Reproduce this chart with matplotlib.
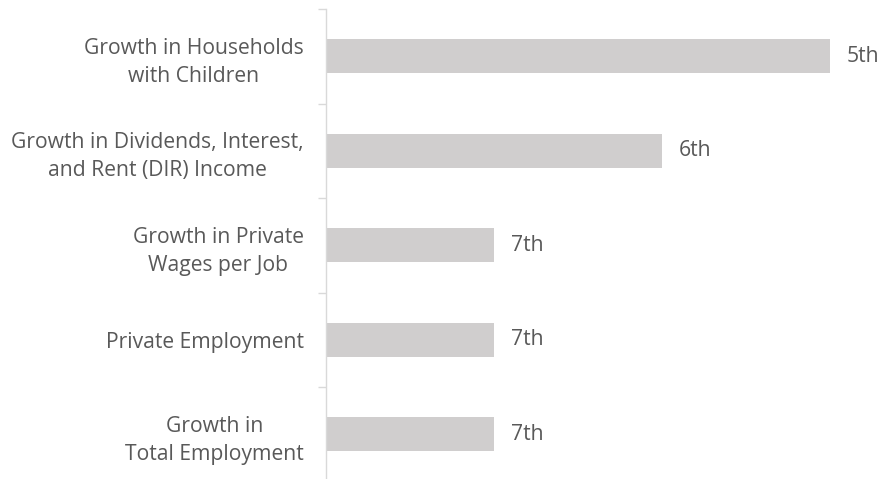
import matplotlib
matplotlib.use("Agg")
import matplotlib.pyplot as plt
import numpy as np

categories = [
    "Growth in Households\nwith Children",
    "Growth in Dividends, Interest,\nand Rent (DIR) Income",
    "Growth in Private\nWages per Job",
    "Private Employment",
    "Growth in\nTotal Employment",
]
values = [3, 2, 1, 1, 1]
rank_labels = ["5th", "6th", "7th", "7th", "7th"]

plt.rcParams['font.family'] = ['Open Sans', 'DejaVu Sans']
text_color = "#595959"
bar_color = "#D0CECE"
axis_color = "#D9D9D9"
fs = 15.2

fig = plt.figure(figsize=(8.79, 4.79), dpi=100)
W, H = 879, 479
ax = fig.add_axes([326 / W, -2.5 / H, 553 / W, 472.5 / H])

n = len(categories)
y = np.arange(n)
ax.barh(y, values, height=0.36, color=bar_color, zorder=2)
ax.set_ylim(n - 0.5, -0.5)
ax.set_xlim(0, 553 / 168)

for yi, v, lab in zip(y, values, rank_labels):
    ax.annotate(lab, (v, yi), xytext=(12, 0), textcoords="offset points",
                va="center", ha="left", fontsize=fs, color=text_color)

ax.set_yticks(y)
ax.set_yticklabels(categories, fontsize=fs, color=text_color)
for t in ax.get_yticklabels():
    t.set_multialignment("center")
    t.set_linespacing(1.43)
ax.tick_params(axis="y", which="major", length=0, pad=16)
ax.set_yticks(np.arange(-0.5, n, 1.0), minor=True)
ax.tick_params(axis="y", which="minor", length=6, width=1, color=axis_color, direction="out")

ax.set_xticks([])
for s in ["top", "right", "bottom"]:
    ax.spines[s].set_visible(False)
ax.spines["left"].set_color(axis_color)
ax.spines["left"].set_linewidth(1)

fig.savefig("out.png", dpi=100)
